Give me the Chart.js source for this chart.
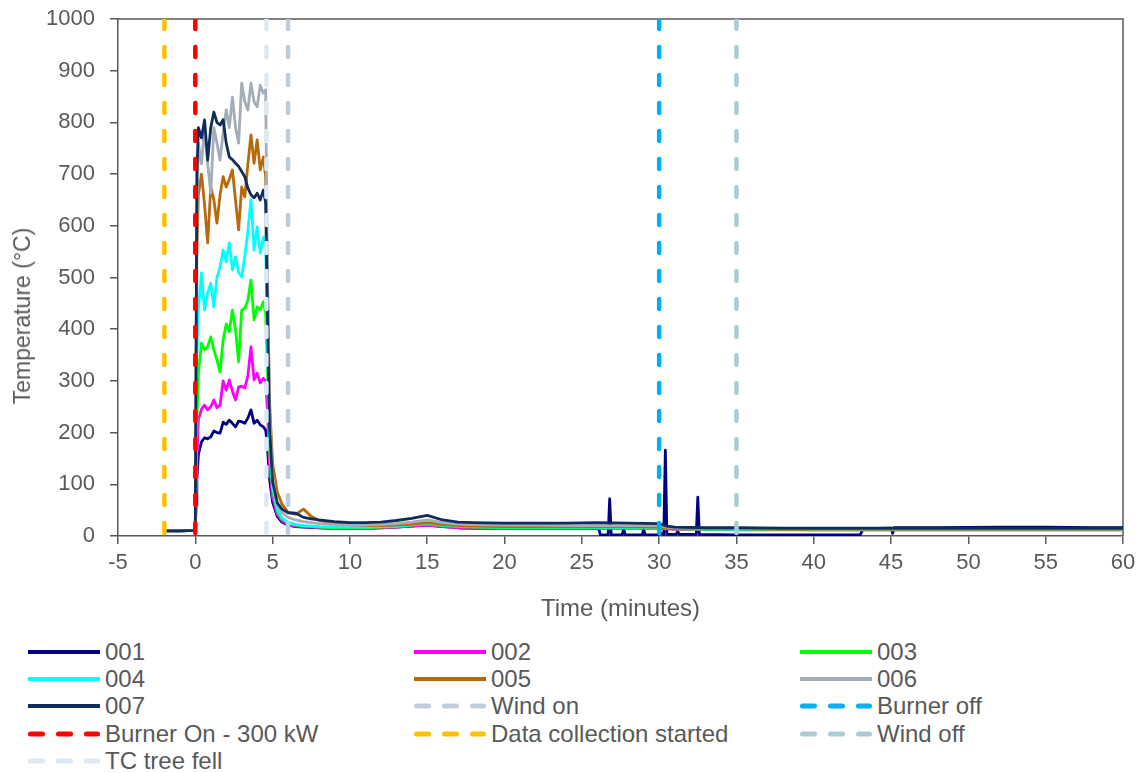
<!DOCTYPE html>
<html>
<head>
<meta charset="utf-8">
<script src="https://cdn.jsdelivr.net/npm/chart.js@4.4.1/dist/chart.umd.min.js"></script>
<style>
html,body{margin:0;padding:0;background:#fff;}
#wrap{position:relative;width:1144px;height:773px;overflow:hidden;font-family:'Liberation Sans',Arial,sans-serif;}
#chart{position:absolute;left:0;top:0;}
.lg{position:absolute;height:24px;line-height:24px;display:flex;align-items:center;color:#595959;font-size:24px;white-space:nowrap;}
.lg svg{flex:none;}
.lg span{margin-left:5px;}
#ytitle{position:absolute;left:22px;top:316px;transform:translate(-50%,-50%) rotate(-90deg);color:#595959;font-size:23px;white-space:nowrap;line-height:28px;}
</style>
</head>
<body>
<div id="wrap">
<canvas id="chart" width="1144" height="630"></canvas>
<div id="ytitle"></div>
<div id="legend"></div>
</div>
<script>
// ---------- DATA ----------
const timeMain = [-2, -1, 0, 0.1, 0.2, 0.4, 0.6, 0.8, 1.0, 1.2, 1.4, 1.6, 1.8, 2.0, 2.2, 2.4, 2.6, 2.8, 3.0, 3.2, 3.4, 3.6, 3.8, 4.0, 4.2, 4.4, 4.55,
  4.65, 4.8, 5.0, 5.3, 5.6, 6.0, 6.5, 7.0, 7.5, 8, 9, 10, 11, 12, 13, 14, 15, 16, 17, 18, 20, 22, 24, 26, 28, 30,
  30.5, 31, 33, 35, 38, 40, 42, 44, 46, 48, 50, 52, 54, 56, 58, 60];

const temp002 = [10, 10, 11, 150, 225, 245, 253, 244, 250, 263, 248, 253, 300, 282, 302, 280, 263, 288, 290, 286, 310, 366, 302, 315, 296, 305, 300,
  250, 140, 75, 42, 30, 22, 19, 18, 17, 16, 15, 15, 15, 16, 17, 19, 21, 18, 16, 15, 15, 15, 15, 15, 15, 15,
  14, 13, 13, 12, 12, 12, 12, 12, 12, 12, 12, 12, 12, 12, 12, 12];

const temp003 = [10, 10, 11, 220, 315, 373, 360, 366, 385, 360, 340, 317, 379, 410, 395, 437, 400, 337, 437, 440, 456, 495, 418, 443, 437, 453, 430,
  340, 165, 88, 48, 33, 25, 21, 19, 18, 17, 16, 16, 16, 17, 18, 21, 23, 20, 18, 17, 16, 16, 16, 16, 16, 16,
  15, 14, 13, 13, 13, 12, 12, 12, 12, 12, 12, 12, 12, 12, 12, 12];

const temp004 = [10, 10, 11, 350, 440, 509, 437, 470, 489, 443, 500, 520, 553, 530, 567, 515, 540, 510, 501, 540, 590, 650, 553, 598, 547, 578, 560,
  400, 185, 95, 52, 35, 26, 22, 20, 19, 18, 17, 17, 17, 18, 19, 22, 25, 21, 19, 18, 17, 17, 17, 17, 17, 17,
  15, 14, 14, 13, 13, 13, 13, 13, 13, 13, 13, 13, 13, 13, 13, 13];

const temp005 = [10, 10, 11, 550, 660, 700, 640, 567, 675, 650, 605, 660, 695, 675, 690, 708, 650, 592, 675, 656, 720, 776, 721, 766, 708, 733, 695,
  520, 260, 140, 85, 62, 46, 42, 52, 38, 30, 24, 22, 20, 20, 21, 23, 26, 22, 20, 19, 18, 18, 18, 18, 18, 17,
  15, 14, 14, 14, 13, 13, 13, 13, 13, 13, 13, 13, 13, 13, 13, 13];

const temp006 = [10, 10, 11, 600, 760, 720, 790, 720, 663, 790, 760, 727, 780, 824, 790, 849, 790, 760, 876, 840, 824, 876, 840, 830, 872, 857, 863,
  560, 240, 115, 62, 45, 36, 31, 28, 26, 24, 22, 21, 21, 22, 24, 27, 31, 26, 23, 22, 21, 21, 20, 20, 20, 20,
  17, 16, 15, 15, 14, 14, 14, 14, 14, 14, 14, 14, 14, 14, 14, 14];

const temp007 = [10, 10, 11, 700, 790, 770, 805, 727, 790, 820, 800, 795, 805, 760, 733, 728, 721, 715, 705, 695, 673, 660, 654, 663, 650, 669, 645,
  460, 210, 105, 64, 52, 45, 44, 36, 33, 31, 28, 26, 26, 27, 30, 34, 40, 31, 27, 26, 25, 25, 25, 26, 25, 24,
  19, 17, 16, 16, 15, 15, 15, 15, 15, 15, 15, 15, 15, 15, 15, 15];

const time001 = [-2, -1, 0, 0.05, 0.1, 0.2, 0.4, 0.6, 0.8, 1.0, 1.2, 1.4, 1.6, 1.8, 2.0, 2.2, 2.4, 2.6, 2.8, 3.0, 3.2, 3.4, 3.6, 3.8, 4.0, 4.2, 4.4, 4.55,
  4.65, 4.8, 5.0, 5.3, 5.6, 6.0, 6.5, 7.0, 8, 9, 10, 11, 12, 13, 14, 15, 16, 17, 18, 20, 22, 24, 25.5,
  26.1, 26.2, 26.7, 26.8, 26.9, 27.6, 27.7, 27.8, 28.9, 29.0, 29.1, 29.9, 30.0, 30.3, 30.4, 30.5,
  31.1, 31.2, 31.3, 32.4, 32.5, 32.6, 35, 38, 40, 43.0, 43.2, 45.0, 45.1, 45.2, 48, 52, 55, 58, 60];

const temp001 = [10, 10, 11, 60, 110, 158, 182, 190, 188, 192, 203, 200, 199, 220, 216, 224, 218, 211, 222, 221, 218, 228, 244, 218, 224, 215, 211, 205,
  180, 110, 65, 38, 27, 21, 18, 17, 16, 15, 15, 15, 16, 17, 19, 21, 18, 16, 15, 15, 15, 15, 15,
  14, 2, 2, 72, 2, 2, 14, 2, 2, 13, 2, 2, 8, 2, 166, 3,
  3, 9, 3, 3, 75, 3, 2, 2, 2, 2, 14, 15, 5, 16, 16, 17, 17, 16, 16];

const seriesNames = ['001', '002', '003', '004', '005', '006', '007'];
const seriesTimes = [time001, timeMain, timeMain, timeMain, timeMain, timeMain, timeMain];
const seriesValues = [temp001, temp002, temp003, temp004, temp005, temp006, temp007];
const seriesColors = ['#000080', '#FF00FF', '#00FF00', '#00FFFF', '#B8690E', '#A3ADB7', '#0F2C5E'];

const eventNames = ['Wind on', 'Burner off', 'Burner On - 300 kW', 'Data collection started', 'Wind off', 'TC tree fell'];
const eventTimes = [6.0, 30, 0, -2, 35, 4.6];
const eventColors = ['#BFCDDA', '#00B0F0', '#FF0000', '#FFC000', '#ADCBD7', '#DCE9F5'];

const xMin = -5, xMax = 60, xStep = 5;
const yMin = 0, yMax = 1000, yStep = 100;
const xTitle = 'Time (minutes)';
const yTitle = 'Temperature (°C)';

// ---------- CHART ----------
const FONT = "'Liberation Sans', Arial, sans-serif";
const TXT = '#595959';
const AXIS = '#595959';

const datasets = [];
seriesNames.forEach((name, i) => {
  datasets.push({
    label: name,
    data: seriesTimes[i].map((t, k) => ({x: t, y: seriesValues[i][k]})),
    borderColor: seriesColors[i],
    backgroundColor: seriesColors[i],
    borderWidth: 2.8,
    pointRadius: 0,
    tension: 0,
    borderJoinStyle: 'round',
    order: 20 - i
  });
});
eventNames.forEach((name, j) => {
  datasets.push({
    label: name,
    data: [{x: eventTimes[j], y: yMax}, {x: eventTimes[j], y: yMin}],
    borderColor: eventColors[j],
    backgroundColor: eventColors[j],
    borderWidth: 4.5,
    borderDash: [10, 18],
    borderCapStyle: 'round',
    pointRadius: 0,
    order: 10 - j
  });
});

const framePlugin = {
  id: 'frame',
  beforeDatasetsDraw(chart) {
    const {ctx, chartArea: a} = chart;
    ctx.save();
    ctx.strokeStyle = AXIS;
    ctx.lineWidth = 1.5;
    ctx.beginPath();
    ctx.moveTo(a.left, a.top);
    ctx.lineTo(a.right, a.top);
    ctx.lineTo(a.right, a.bottom);
    ctx.stroke();
    ctx.restore();
  }
};

new Chart(document.getElementById('chart'), {
  type: 'line',
  data: {datasets},
  plugins: [framePlugin],
  options: {
    responsive: false,
    animation: false,
    devicePixelRatio: 1,
    layout: {padding: {top: 19, right: 21, left: 0, bottom: 0}},
    plugins: {legend: {display: false}, tooltip: {enabled: false}},
    scales: {
      x: {
        type: 'linear', min: xMin, max: xMax,
        ticks: {stepSize: xStep, color: TXT, font: {size: 22, family: FONT}, padding: 6, maxRotation: 0,
                callback: v => String(v)},
        grid: {drawOnChartArea: false, drawTicks: true, tickLength: 8, color: AXIS, lineWidth: 1.5},
        border: {display: true, color: AXIS, width: 1.5},
        title: {display: true, text: xTitle, color: TXT, font: {size: 24, family: FONT}, padding: {top: 0, bottom: 6}},
        afterFit: s => { s.height = 94; }
      },
      y: {
        type: 'linear', min: yMin, max: yMax,
        ticks: {stepSize: yStep, color: TXT, font: {size: 22, family: FONT}, padding: 15,
                callback: v => String(v)},
        grid: {drawOnChartArea: false, drawTicks: true, tickLength: 8, color: AXIS, lineWidth: 1.5},
        border: {display: true, color: AXIS, width: 1.5},
        title: {display: false},
        afterFit: s => { s.width = 118; s.paddingTop = 0; s.paddingBottom = 0; }
      }
    }
  }
});

document.getElementById('ytitle').textContent = yTitle;

// ---------- LEGEND (HTML, 3 columns) ----------
const legendCols = [28, 414, 800];
const legendRows = [652, 679, 706, 734, 761];
const legendItems = seriesNames.map((n, i) => ({name: n, color: seriesColors[i], dashed: false}))
  .concat(eventNames.map((n, j) => ({name: n, color: eventColors[j], dashed: true})));
const lg = document.getElementById('legend');
legendItems.forEach((it, k) => {
  const c = k % 3, r = Math.floor(k / 3);
  const d = document.createElement('div');
  d.className = 'lg';
  d.style.left = legendCols[c] + 'px';
  d.style.top = (legendRows[r] - 12) + 'px';
  const line = it.dashed
    ? `<line x1="2.5" y1="5" x2="69.5" y2="5" stroke="${it.color}" stroke-width="5" stroke-linecap="round" stroke-dasharray="12 16"/>`
    : `<line x1="0" y1="5" x2="72" y2="5" stroke="${it.color}" stroke-width="4"/>`;
  d.innerHTML = `<svg width="72" height="10" viewBox="0 0 72 10">${line}</svg><span>${it.name}</span>`;
  lg.appendChild(d);
});
</script>
</body>
</html>
